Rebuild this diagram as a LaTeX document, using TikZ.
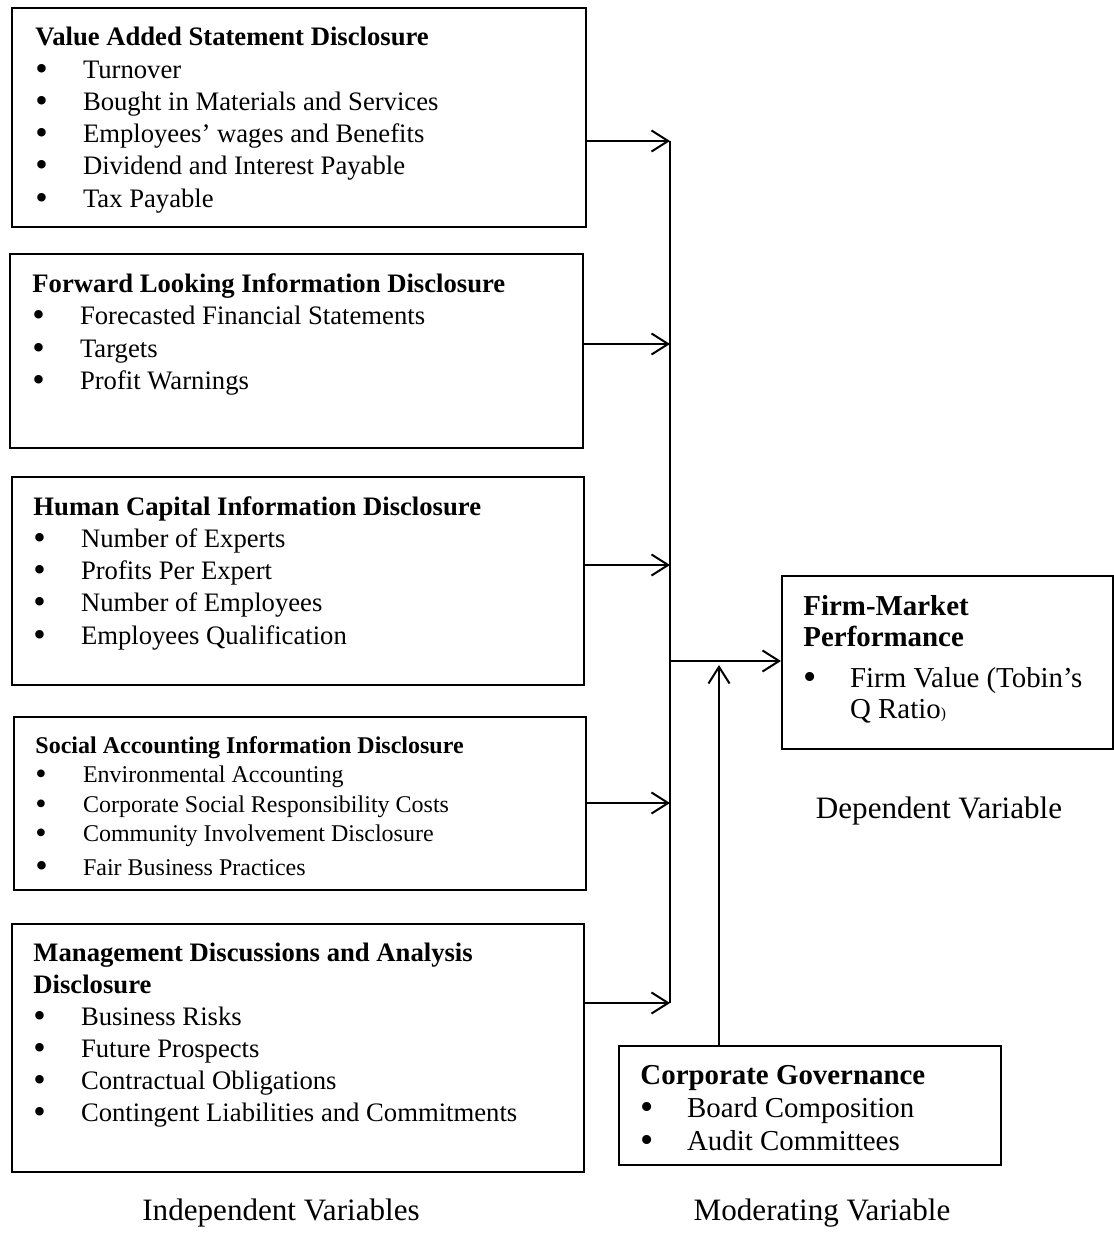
\documentclass[tikz,border=0pt]{standalone}
\usepackage{fontspec}
\setmainfont{Liberation Serif}
\usetikzlibrary{fit,arrows.meta}
\newcommand{\bigbul}[1]{\smash{\raisebox{-0.9pt}{\fontsize{#1}{0}\selectfont\textbullet}}}
\newcommand{\bl}{\makebox[21.4pt][l]{\bigbul{16}}}
\newcommand{\bls}{\makebox[21.4pt][l]{\bigbul{14.5}}}
\tikzset{
  box/.style={draw, line width=0.9pt, inner sep=0pt},
  txt/.style={inner sep=0pt, anchor=north west, align=left},
  arr/.style={line width=0.9pt, -{Straight Barb[length=7.5pt,width=9.5pt,line width=0.9pt]}},
  conn/.style={line width=0.9pt},
  lbl/.style={inner sep=0pt, font=\fontsize{14}{16}\selectfont}
}
\begin{document}
\begin{tikzpicture}[x=0.45pt,y=-0.45pt]
\useasboundingbox (0,0) rectangle (1114,1233);
% boxes
\node[box, fit={(12,8)(586,227)}] (b1) {};
\node[box, fit={(10,254)(583,448)}] (b2) {};
\node[box, fit={(12,477)(584,685)}] (b3) {};
\node[box, fit={(14,717)(586,890)}] (b4) {};
\node[box, fit={(12,924)(584,1172)}] (b5) {};
\node[box, fit={(782,576)(1113,749)}] (firm) {};
\node[box, fit={(619,1046)(1001,1165)}] (corp) {};
% texts
\node[txt, font=\fontsize{12}{14.5}\selectfont] (t1) at (35,27) {%
\textbf{Value Added Statement Disclosure}\\
\bl Turnover\\
\bl Bought in Materials and Services\\
\bl Employees’ wages and Benefits\\
\bl Dividend and Interest Payable\\
\bl Tax Payable};
\node[txt, font=\fontsize{12}{14.6}\selectfont] (t2) at (32,273) {%
\textbf{Forward Looking Information Disclosure}\\
\bl Forecasted Financial Statements\\
\bl Targets\\
\bl Profit Warnings};
\node[txt, font=\fontsize{12}{14.5}\selectfont] (t3) at (33,496) {%
\textbf{Human Capital Information Disclosure}\\
\bl Number of Experts\\
\bl Profits Per Expert\\
\bl Number of Employees\\
\bl Employees Qualification};
\node[txt, font=\fontsize{10.8}{13.2}\selectfont] (t4) at (35,736) {%
\textbf{Social Accounting Information Disclosure}\\
\bls Environmental Accounting\\
\bls Corporate Social Responsibility Costs\\
\bls Community Involvement Disclosure\\[2pt]
\bl Fair Business Practices};
\node[txt, font=\fontsize{12}{14.4}\selectfont] (t5) at (33,943) {%
\textbf{Management Discussions and Analysis}\\
\textbf{Disclosure}\\
\bl Business Risks\\
\bl Future Prospects\\
\bl Contractual Obligations\\
\bl Contingent Liabilities and Commitments};
\node[txt, font=\fontsize{13}{14}\selectfont] (tf) at (803,595) {%
\textbf{Firm-Market}\\
\textbf{Performance}\\[4.5pt]
\makebox[21pt][l]{\bigbul{17}}Firm Value (Tobin’s\\
\hspace{21pt}Q Ratio{\scriptsize)}};
\node[txt, font=\fontsize{13}{14.9}\selectfont] (tc) at (640,1065) {%
\textbf{Corporate Governance}\\
\makebox[21pt][l]{\bigbul{17}}Board Composition\\
\makebox[21pt][l]{\bigbul{17}}Audit Committees};
% labels
\node[lbl] (ldep) at (939,811) {Dependent Variable};
\node[lbl] (lind) at (281,1213) {Independent Variables};
\node[lbl] (lmod) at (822,1213) {Moderating Variable};
% junction coordinates
\coordinate (j1) at (670,141);
\coordinate (j2) at (670,344);
\coordinate (j3) at (670,565);
\coordinate (j4) at (670,803);
\coordinate (j5) at (670,1003);
\coordinate (jm) at (670,661);
\coordinate (up) at (719,665);
% connectors
\draw[arr] (b1.east |- j1) -- (j1);
\draw[arr] (b2.east |- j2) -- (j2);
\draw[arr] (b3.east |- j3) -- (j3);
\draw[arr] (b4.east |- j4) -- (j4);
\draw[arr] (b5.east |- j5) -- (j5);
\draw[conn] (j1) -- (j5);
\draw[arr] (jm) -- (firm.west |- jm);
\draw[arr] (corp.north -| up) -- (up);
\end{tikzpicture}
\end{document}
